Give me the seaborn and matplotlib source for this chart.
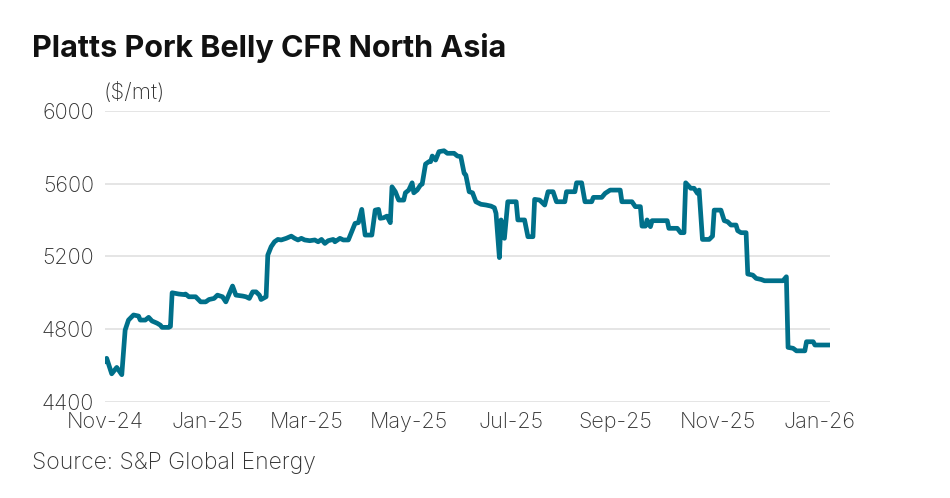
import matplotlib
matplotlib.use("Agg")
import matplotlib.pyplot as plt
import matplotlib.dates as mdates
import seaborn as sns
import pandas as pd

dates = [
    "2024-11-01", "2024-11-02", "2024-11-05", "2024-11-08", "2024-11-11", "2024-11-13",
    "2024-11-15", "2024-11-18", "2024-11-21", "2024-11-22", "2024-11-25", "2024-11-27",
    "2024-11-29", "2024-12-02", "2024-12-04", "2024-12-05", "2024-12-09", "2024-12-10",
    "2024-12-11", "2024-12-15", "2024-12-18", "2024-12-19", "2024-12-21", "2024-12-25",
    "2024-12-28", "2024-12-31", "2025-01-02", "2025-01-05", "2025-01-07", "2025-01-10",
    "2025-01-12", "2025-01-16", "2025-01-18", "2025-01-22", "2025-01-24", "2025-01-26",
    "2025-01-28", "2025-01-30", "2025-02-01", "2025-02-02", "2025-02-05", "2025-02-06",
    "2025-02-08", "2025-02-10", "2025-02-12", "2025-02-14", "2025-02-17", "2025-02-20",
    "2025-02-22", "2025-02-24", "2025-02-26", "2025-02-28", "2025-03-03", "2025-03-06",
    "2025-03-08", "2025-03-10", "2025-03-12", "2025-03-14", "2025-03-17", "2025-03-18",
    "2025-03-21", "2025-03-23", "2025-03-26", "2025-03-30", "2025-04-01", "2025-04-03",
    "2025-04-05", "2025-04-07", "2025-04-09", "2025-04-11", "2025-04-13", "2025-04-14",
    "2025-04-16", "2025-04-18", "2025-04-20", "2025-04-21", "2025-04-23", "2025-04-25",
    "2025-04-28", "2025-04-29", "2025-05-01", "2025-05-03", "2025-05-04", "2025-05-06",
    "2025-05-08", "2025-05-09", "2025-05-11", "2025-05-13", "2025-05-14", "2025-05-15",
    "2025-05-17", "2025-05-19", "2025-05-22", "2025-05-24", "2025-05-28", "2025-05-30",
    "2025-06-01", "2025-06-03", "2025-06-04", "2025-06-06", "2025-06-08", "2025-06-10",
    "2025-06-13", "2025-06-16", "2025-06-19", "2025-06-21", "2025-06-22", "2025-06-24",
    "2025-06-25", "2025-06-27", "2025-06-29", "2025-07-04", "2025-07-05", "2025-07-09",
    "2025-07-11", "2025-07-14", "2025-07-15", "2025-07-18", "2025-07-21", "2025-07-23",
    "2025-07-26", "2025-07-28", "2025-08-02", "2025-08-03", "2025-08-08", "2025-08-09",
    "2025-08-12", "2025-08-14", "2025-08-18", "2025-08-19", "2025-08-24", "2025-08-26",
    "2025-08-29", "2025-09-04", "2025-09-05", "2025-09-11", "2025-09-13", "2025-09-16",
    "2025-09-17", "2025-09-19", "2025-09-20", "2025-09-22", "2025-09-23", "2025-10-02",
    "2025-10-03", "2025-10-08", "2025-10-10", "2025-10-12", "2025-10-13", "2025-10-16",
    "2025-10-18", "2025-10-20", "2025-10-21", "2025-10-23", "2025-10-27", "2025-10-29",
    "2025-10-30", "2025-11-03", "2025-11-05", "2025-11-07", "2025-11-09", "2025-11-12",
    "2025-11-13", "2025-11-15", "2025-11-18", "2025-11-19", "2025-11-22", "2025-11-24",
    "2025-11-27", "2025-11-29", "2025-12-10", "2025-12-12", "2025-12-13", "2025-12-16",
    "2025-12-18", "2025-12-23", "2025-12-24", "2025-12-28", "2025-12-29", "2026-01-07",
]

prices = [
    4620, 4640, 4555, 4590, 4550, 4795,
    4850, 4878, 4872, 4850, 4850, 4865,
    4845, 4833, 4822, 4810, 4810, 4815,
    5000, 4993, 4990, 4993, 4978, 4978,
    4950, 4950, 4963, 4969, 4987, 4978,
    4950, 5037, 4987, 4982, 4978, 4969,
    5005, 5005, 4987, 4963, 4978, 5207,
    5253, 5280, 5293, 5290, 5299, 5311,
    5299, 5290, 5299, 5290, 5286, 5290,
    5280, 5293, 5271, 5286, 5293, 5280,
    5299, 5290, 5290, 5381, 5385, 5458,
    5317, 5317, 5317, 5454, 5458, 5409,
    5412, 5421, 5385, 5582, 5555, 5509,
    5509, 5549, 5564, 5604, 5549, 5564,
    5592, 5597, 5707, 5720, 5720, 5751,
    5729, 5775, 5780, 5766, 5766, 5751,
    5748, 5656, 5647, 5555, 5549, 5500,
    5486, 5482, 5476, 5467, 5436, 5193,
    5400, 5299, 5500, 5500, 5400, 5400,
    5308, 5308, 5513, 5509, 5482, 5555,
    5555, 5500, 5500, 5555, 5555, 5604,
    5604, 5500, 5500, 5524, 5524, 5546,
    5564, 5564, 5500, 5500, 5473, 5473,
    5366, 5366, 5400, 5363, 5396, 5396,
    5354, 5354, 5330, 5330, 5604, 5574,
    5574, 5546, 5564, 5293, 5293, 5311,
    5454, 5454, 5396, 5390, 5372, 5372,
    5341, 5330, 5330, 5103, 5097, 5079,
    5073, 5066, 5066, 5088, 4700, 4695,
    4681, 4681, 4731, 4731, 4713, 4713,
]

y_ticks = [4400, 4800, 5200, 5600, 6000]
title = "Platts Pork Belly CFR North Asia"
unit_label = "($/mt)"
source = "Source: S&P Global Energy"

df = pd.DataFrame({"date": pd.to_datetime(dates), "price": prices})

sns.set_style("white")
plt.rcParams["font.family"] = ["Inter", "DejaVu Sans"]

fig = plt.figure(figsize=(9.5, 4.98), dpi=100)
ax = fig.add_axes([105 / 950, 1 - 402 / 498, 725 / 950, (402 - 110.7) / 498])

sns.lineplot(data=df, x="date", y="price", ax=ax, color="#00708A", linewidth=3.4,
             solid_joinstyle="round", solid_capstyle="round", zorder=3)

ax.set_xlim(df["date"].min(), df["date"].max())
ax.set_ylim(4400, 6000)
ax.set_yticks(y_ticks)
ax.xaxis.set_major_locator(mdates.MonthLocator(bymonth=[1, 3, 5, 7, 9, 11], bymonthday=1))
ax.xaxis.set_major_formatter(mdates.DateFormatter("%b-%y"))
ax.grid(axis="y", color="#e3e3e3", linewidth=1.3, zorder=0)
ax.grid(axis="x", visible=False)
for s in ax.spines.values():
    s.set_visible(False)
ax.set_xlabel("")
ax.set_ylabel("")
ax.tick_params(axis="both", length=0, labelsize=15.5, labelcolor="#333333")
for lbl in ax.get_xticklabels() + ax.get_yticklabels():
    lbl.set_fontweight("light")
ax.tick_params(axis="y", pad=8)
ax.tick_params(axis="x", pad=7)

fig.text(32 / 950, 1 - 48 / 498, title, fontsize=22, fontweight="bold",
         color="#111111", va="center", ha="left")
fig.text(104 / 950, 1 - 93 / 498, unit_label, fontsize=16, color="#333333",
         fontweight="light", va="center", ha="left")
fig.text(32 / 950, 1 - 463 / 498, source, fontsize=16.5, color="#333333",
         fontweight="light", va="center", ha="left")

fig.savefig("out.png", dpi=100)
